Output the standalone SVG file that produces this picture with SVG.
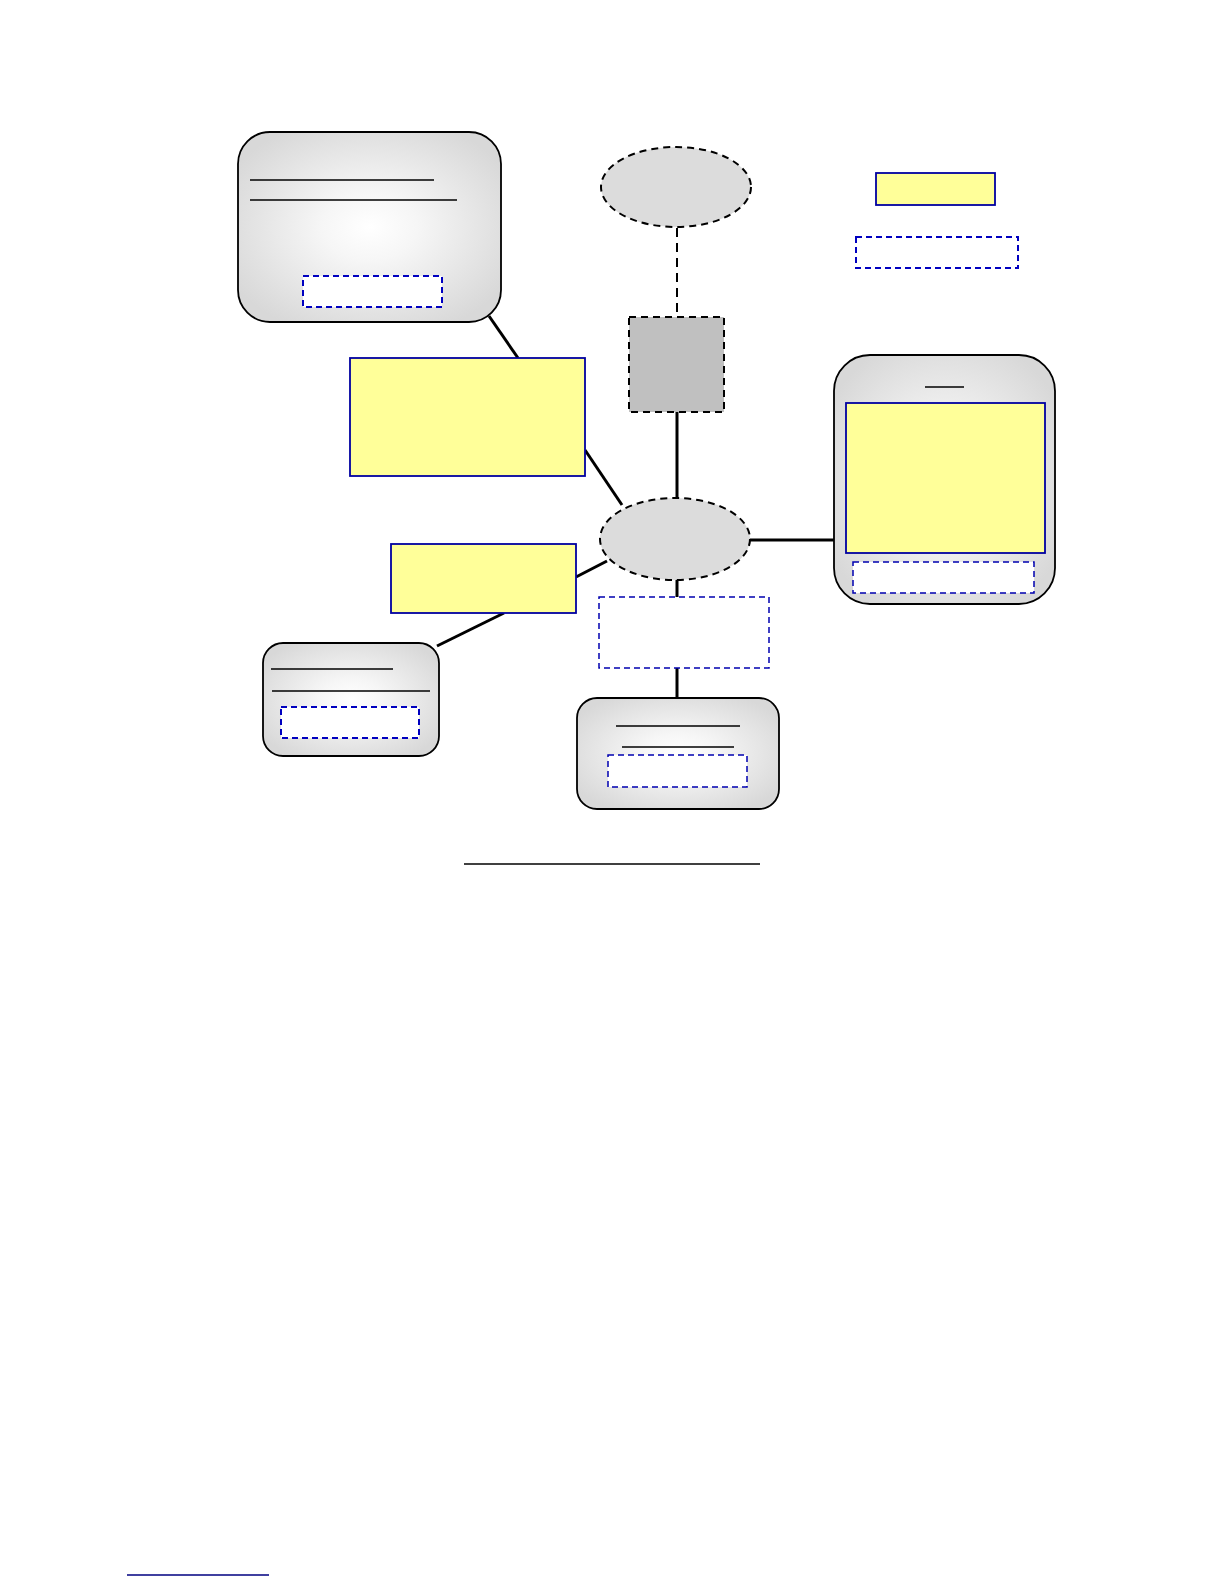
<svg xmlns="http://www.w3.org/2000/svg" width="1224" height="1584" viewBox="0 0 1224 1584">
<style>
.rbox{fill:url(#rg);stroke:#000;stroke-width:1.8}
.ell{fill:#dcdcdc;stroke:#000;stroke-width:2;stroke-dasharray:7 5}
.sq{fill:#c0c0c0;stroke:#000;stroke-width:2;stroke-dasharray:7 5}
.yel{fill:#ffff99;stroke:#0000a0;stroke-width:1.8}
.dbox{fill:#fff;stroke:#0000c0;stroke-width:2;stroke-dasharray:6 4}
.dboxt{fill:#fff;stroke:#0000b0;stroke-width:1.5;stroke-dasharray:6 4}
.ul{stroke:#000;stroke-width:1.3}
.con{stroke:#000;stroke-width:3;fill:none}
</style>
<defs>
<radialGradient id="rg" cx="0.5" cy="0.5" r="0.6">
<stop offset="0" stop-color="#ffffff"/>
<stop offset="0.3" stop-color="#f6f6f6"/>
<stop offset="1" stop-color="#d8d8d8"/>
</radialGradient>
</defs>
<rect width="1224" height="1584" fill="#fff"/>
<g id="connectors">
<line class="con" x1="489" y1="316" x2="518" y2="358"/>
<line class="con" x1="585" y1="450" x2="622" y2="505"/>
<line class="con" x1="576" y1="577" x2="607" y2="561"/>
<line class="con" x1="437" y1="646" x2="504" y2="613"/>
<line class="con" x1="677" y1="412" x2="677" y2="498"/>
<line class="con" x1="749" y1="540" x2="834" y2="540"/>
<line class="con" x1="677" y1="579" x2="677" y2="597"/>
<line class="con" x1="677" y1="668" x2="677" y2="698"/>
<line stroke="#000" stroke-width="2" stroke-dasharray="9 6" x1="677" y1="228" x2="677" y2="317"/>
</g>
<g id="node-topleft">
<rect class="rbox" x="238" y="132" width="263" height="190" rx="32"/>
<line class="ul" x1="250" y1="180" x2="434" y2="180"/>
<line class="ul" x1="250" y1="200" x2="457" y2="200"/>
<rect class="dbox" x="303" y="276" width="139" height="31"/>
</g>
<g id="node-top-ellipse">
<ellipse class="ell" cx="676" cy="187" rx="75" ry="40"/>
</g>
<g id="node-square">
<rect class="sq" x="629" y="317" width="95" height="95"/>
</g>
<g id="legend">
<rect class="yel" x="876" y="173" width="119" height="32"/>
<rect class="dbox" x="856" y="237" width="162" height="31"/>
</g>
<g id="node-right">
<rect class="rbox" x="834" y="355" width="221" height="249" rx="36"/>
<line class="ul" x1="925" y1="387" x2="964" y2="387"/>
<rect class="yel" x="846" y="403" width="199" height="150"/>
<rect class="dboxt" x="853" y="562" width="181" height="31"/>
</g>
<g id="node-yellow-big">
<rect class="yel" x="350" y="358" width="235" height="118"/>
</g>
<g id="node-yellow-small">
<rect class="yel" x="391" y="544" width="185" height="69"/>
</g>
<g id="node-center">
<ellipse class="ell" cx="675" cy="539" rx="75" ry="41"/>
</g>
<g id="node-center-label">
<rect class="dboxt" x="599" y="597" width="170" height="71"/>
</g>
<g id="node-bottomleft">
<rect class="rbox" x="263" y="643" width="176" height="113" rx="20"/>
<line class="ul" x1="271" y1="669" x2="393" y2="669"/>
<line class="ul" x1="272" y1="691" x2="430" y2="691"/>
<rect class="dbox" x="281" y="707" width="138" height="31"/>
</g>
<g id="node-bottom">
<rect class="rbox" x="577" y="698" width="202" height="111" rx="20"/>
<line class="ul" x1="616" y1="726" x2="740" y2="726"/>
<line class="ul" x1="622" y1="747" x2="734" y2="747"/>
<rect class="dboxt" x="608" y="755" width="139" height="32"/>
</g>
<line class="ul" x1="464" y1="864" x2="760" y2="864"/>
<line stroke="#000080" stroke-width="1.3" x1="127" y1="1575" x2="269" y2="1575"/>
</svg>
